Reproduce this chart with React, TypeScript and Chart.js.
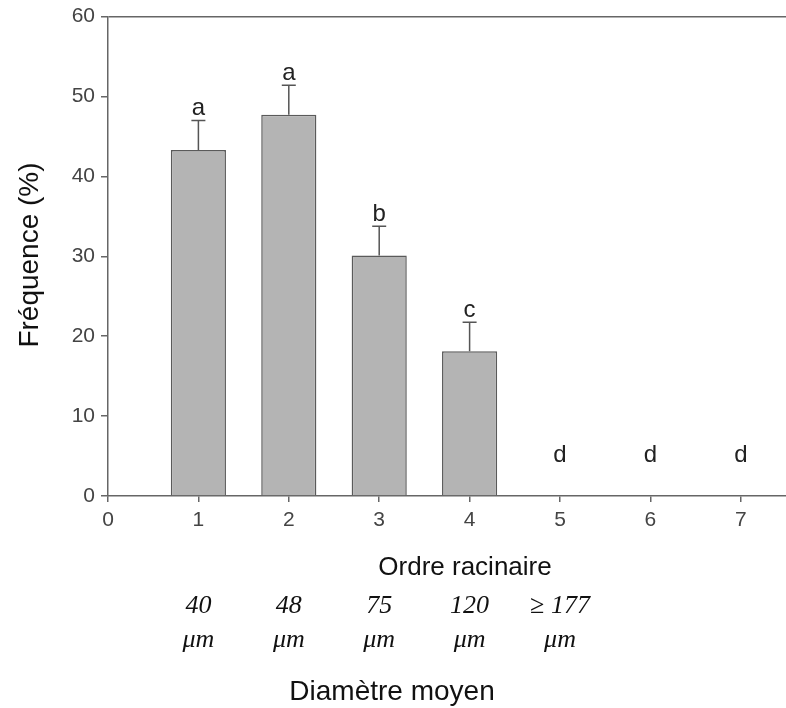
import { useEffect, useRef } from "react";
import { Chart, registerables } from "chart.js";

Chart.register(...registerables);

// ---- data ----
const orders = [1, 2, 3, 4, 5, 6, 7];
const frequencies = [43.3, 47.7, 30.1, 18.1, 0, 0, 0];
const errors = [3.7, 3.7, 3.65, 3.65, 0, 0, 0];
const letters = ["a", "a", "b", "c", "d", "d", "d"];
const letterLevels = [47.0, 51.4, 33.75, 21.75, 3.6, 3.6, 3.6];
const diameterOrders = [1, 2, 3, 4, 5];
const diameterValues = ["40", "48", "75", "120", "≥ 177"];
const diameterUnit = "μm";
const yTitle = "Fréquence (%)";
const xTitle = "Ordre racinaire";
const diameterTitle = "Diamètre moyen";

const SANS = "'Liberation Sans', Arial, Helvetica, sans-serif";
const SERIF = "'Liberation Serif', 'Times New Roman', serif";
const AXIS = "#666";

const annotations = {
  id: "annotations",
  afterDatasetsDraw(chart: any) {
    const { ctx } = chart;
    const x = chart.scales.x;
    const y = chart.scales.y;
    ctx.save();
    // error bars
    ctx.strokeStyle = "#555";
    ctx.lineWidth = 1.5;
    orders.forEach((o, i) => {
      if (errors[i] <= 0) return;
      const px = x.getPixelForValue(o);
      const y0 = y.getPixelForValue(frequencies[i]);
      const y1 = y.getPixelForValue(frequencies[i] + errors[i]);
      ctx.beginPath();
      ctx.moveTo(px, y0);
      ctx.lineTo(px, y1);
      ctx.moveTo(px - 7, y1);
      ctx.lineTo(px + 7, y1);
      ctx.stroke();
    });
    // significance letters
    ctx.fillStyle = "#222";
    ctx.font = `24px ${SANS}`;
    ctx.textAlign = "center";
    ctx.textBaseline = "alphabetic";
    orders.forEach((o, i) => {
      ctx.fillText(letters[i], x.getPixelForValue(o), y.getPixelForValue(letterLevels[i]) - 5);
    });
    ctx.restore();
  },
  afterDraw(chart: any) {
    const { ctx } = chart;
    const x = chart.scales.x;
    ctx.save();
    ctx.fillStyle = "#111";
    ctx.textAlign = "center";
    ctx.textBaseline = "alphabetic";
    // x title
    ctx.font = `26px ${SANS}`;
    ctx.fillText(xTitle, 465, 575);
    // diameters
    ctx.font = `italic 26px ${SERIF}`;
    diameterOrders.forEach((o, i) => {
      const px = x.getPixelForValue(o);
      ctx.fillText(diameterValues[i], px, 613);
      ctx.fillText(diameterUnit, px, 647);
    });
    ctx.font = `28px ${SANS}`;
    ctx.fillText(diameterTitle, 392, 700);
    // y title
    ctx.translate(30, 255);
    ctx.rotate(-Math.PI / 2);
    ctx.textBaseline = "middle";
    ctx.font = `28px ${SANS}`;
    ctx.fillText(yTitle, 0, 0);
    ctx.restore();
  },
};

export default function App() {
  const ref = useRef<HTMLCanvasElement | null>(null);
  useEffect(() => {
    if (!ref.current) return;
    const chart = new Chart(ref.current, {
      type: "bar",
      data: {
        datasets: [
          {
            data: orders.map((o, i) => ({ x: o, y: frequencies[i] })),
            backgroundColor: "#b4b4b4",
            borderColor: "#5a5a5a",
            borderWidth: (c: any) => (c.raw && c.raw.y > 0 ? 1.5 : 0),
            barPercentage: 0.61,
            categoryPercentage: 1,
          },
        ],
      },
      options: {
        animation: false,
        responsive: false,
        devicePixelRatio: 1,
        layout: { padding: { top: 12, left: 0, right: 0, bottom: 0 } },
        plugins: { legend: { display: false }, tooltip: { enabled: false } },
        scales: {
          x: {
            type: "linear",
            min: 0,
            max: 7.5,
            offset: false,
            grid: { offset: false, drawOnChartArea: false, tickLength: 6, tickColor: AXIS, lineWidth: 1.5 },
            border: { color: AXIS, width: 1.5 },
            ticks: {
              stepSize: 1,
              includeBounds: false,
              padding: 6,
              color: "#444",
              font: { size: 21, family: SANS },
              maxRotation: 0,
            },
            afterFit: (s: any) => {
              s.height = 212;
            },
          },
          y: {
            min: 0,
            max: 60,
            grid: {
              color: (c: any) => (c.tick && c.tick.value === 60 ? AXIS : "rgba(0,0,0,0)"),
              lineWidth: 1.5,
              tickLength: 7,
              tickColor: AXIS,
            },
            border: { color: AXIS, width: 1.5 },
            ticks: {
              stepSize: 10,
              padding: 6,
              color: "#444",
              font: { size: 21, family: SANS, lineHeight: 1 },
            },
            afterFit: (s: any) => {
              s.width = 108;
            },
          },
        },
      },
      plugins: [annotations],
    } as any);
    return () => chart.destroy();
  }, []);
  return (
    <div style={{ position: "absolute", left: 0, top: 0, width: 786, height: 708, background: "#fff" }}>
      <canvas ref={ref} width={786} height={708} />
    </div>
  );
}
